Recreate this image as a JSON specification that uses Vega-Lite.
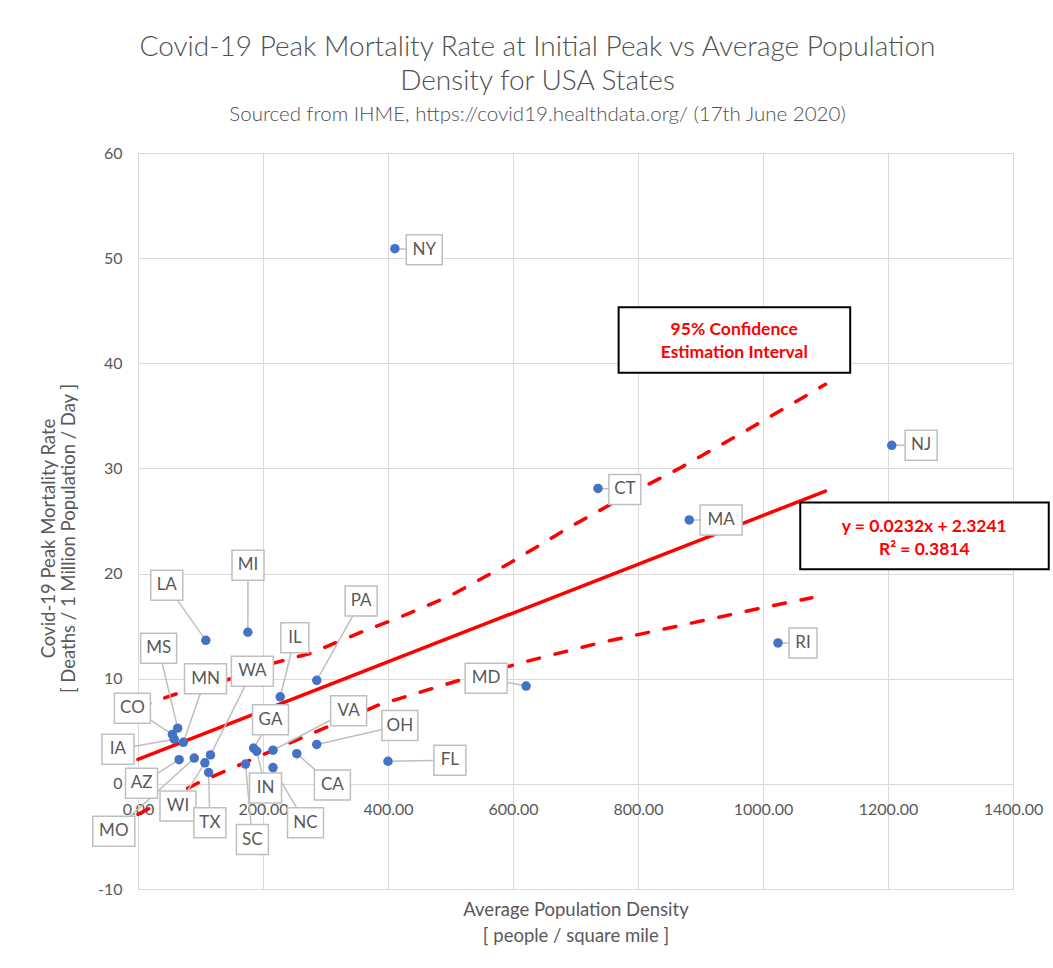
{
  "$schema": "https://vega.github.io/schema/vega-lite/v6.json",
  "autosize": {"type": "none"},
  "padding": {"left": 138, "top": 153, "right": 40, "bottom": 79},
  "width": 875,
  "height": 736,
  "background": "white",
  "config": {
    "view": {"stroke": null},
    "font": "Lato"
  },
  "title": {
    "text": ["Covid-19 Peak Mortality Rate at Initial Peak vs Average Population", "Density for USA States"],
    "subtitle": "Sourced from IHME, https://covid19.healthdata.org/ (17th June 2020)",
    "anchor": "middle",
    "frame": "group",
    "dx": -38,
    "font": "Lato",
    "fontWeight": 300,
    "fontSize": 28,
    "lineHeight": 34,
    "color": "#505050",
    "subtitleFont": "Lato",
    "subtitleFontWeight": 300,
    "subtitleFontSize": 20.5,
    "subtitleColor": "#505050",
    "subtitlePadding": 9,
    "offset": 20
  },
  "datasets": {
    "states": [
      {"state": "NY", "density": 411, "rate": 50.9, "lx": 458, "ly": 50.8},
      {"state": "NJ", "density": 1206, "rate": 32.2, "lx": 1253, "ly": 32.2},
      {"state": "CT", "density": 736, "rate": 28.1, "lx": 779, "ly": 28.0},
      {"state": "MA", "density": 882, "rate": 25.1, "lx": 933, "ly": 25.1},
      {"state": "RI", "density": 1024, "rate": 13.4, "lx": 1064, "ly": 13.4},
      {"state": "MD", "density": 621, "rate": 9.3, "lx": 557, "ly": 10.05},
      {"state": "FL", "density": 400, "rate": 2.15, "lx": 499, "ly": 2.25},
      {"state": "OH", "density": 286, "rate": 3.75, "lx": 419, "ly": 5.55},
      {"state": "CA", "density": 254, "rate": 2.87, "lx": 311, "ly": -0.1},
      {"state": "VA", "density": 216, "rate": 3.2, "lx": 337, "ly": 6.95},
      {"state": "NC", "density": 216, "rate": 1.55, "lx": 268, "ly": -3.7},
      {"state": "IN", "density": 190, "rate": 3.1, "lx": 204, "ly": -0.4},
      {"state": "GA", "density": 185, "rate": 3.4, "lx": 212, "ly": 6.1},
      {"state": "SC", "density": 172, "rate": 1.88, "lx": 183, "ly": -5.3},
      {"state": "PA", "density": 286, "rate": 9.85, "lx": 357, "ly": 17.4},
      {"state": "IL", "density": 227.6, "rate": 8.28, "lx": 251, "ly": 13.9},
      {"state": "MI", "density": 175.8, "rate": 14.42, "lx": 176, "ly": 20.8},
      {"state": "LA", "density": 108.5, "rate": 13.65, "lx": 46, "ly": 18.9},
      {"state": "MS", "density": 63.5, "rate": 5.3, "lx": 33, "ly": 12.9},
      {"state": "CO", "density": 55, "rate": 4.7, "lx": -9, "ly": 7.2},
      {"state": "IA", "density": 58, "rate": 4.25, "lx": -32, "ly": 3.3},
      {"state": "MN", "density": 72.6, "rate": 3.95, "lx": 108, "ly": 10.0},
      {"state": "AZ", "density": 65.8, "rate": 2.3, "lx": 5.6, "ly": 0.05},
      {"state": "MO", "density": 90, "rate": 2.45, "lx": -38.7, "ly": -4.5},
      {"state": "WI", "density": 107, "rate": 2.0, "lx": 64, "ly": -2.1},
      {"state": "WA", "density": 116, "rate": 2.75, "lx": 183, "ly": 10.7},
      {"state": "TX", "density": 113, "rate": 1.08, "lx": 115, "ly": -3.7}
    ],
    "lines": [
      {"series": "fit", "density": 0, "rate": 2.3241},
      {"series": "fit", "density": 1100, "rate": 27.8441},
      {"series": "upper", "density": 0, "rate": 7.4},
      {"series": "upper", "density": 21, "rate": 7.7},
      {"series": "upper", "density": 58, "rate": 8.5},
      {"series": "upper", "density": 143, "rate": 9.9},
      {"series": "upper", "density": 212, "rate": 11.4},
      {"series": "upper", "density": 275, "rate": 12.4},
      {"series": "upper", "density": 360, "rate": 14.5},
      {"series": "upper", "density": 413, "rate": 15.7},
      {"series": "upper", "density": 500, "rate": 17.9},
      {"series": "upper", "density": 595, "rate": 21.0},
      {"series": "upper", "density": 690, "rate": 24.4},
      {"series": "upper", "density": 778, "rate": 27.3},
      {"series": "upper", "density": 866, "rate": 30.0},
      {"series": "upper", "density": 976, "rate": 33.7},
      {"series": "upper", "density": 1100, "rate": 38.0},
      {"series": "lower", "density": 0, "rate": -2.9},
      {"series": "lower", "density": 95, "rate": 0.06},
      {"series": "lower", "density": 143, "rate": 1.3},
      {"series": "lower", "density": 243, "rate": 3.9},
      {"series": "lower", "density": 387, "rate": 7.55},
      {"series": "lower", "density": 519, "rate": 9.94},
      {"series": "lower", "density": 625, "rate": 11.7},
      {"series": "lower", "density": 738, "rate": 13.4},
      {"series": "lower", "density": 871, "rate": 15.1},
      {"series": "lower", "density": 1003, "rate": 16.8},
      {"series": "lower", "density": 1078, "rate": 17.7}
    ],
    "boxes": [
      {"box": "ci", "x1": 769, "x2": 1139.5, "y1": 45.33, "y2": 39.11},
      {"box": "eq", "x1": 1059.6, "x2": 1457.2, "y1": 26.75, "y2": 20.41}
    ],
    "notes": [
      {"text": "95% Confidence", "tx": 954, "ty": 43.17},
      {"text": "Estimation Interval", "tx": 954, "ty": 40.95},
      {"text": "y = 0.0232x + 2.3241", "tx": 1258, "ty": 24.46},
      {"text": "R² = 0.3814", "tx": 1258, "ty": 22.25}
    ]
  },
  "layer": [
    {
      "data": {"name": "lines"},
      "transform": [{"filter": "datum.series === 'fit'"}],
      "mark": {"type": "line", "color": "#FF0000", "strokeWidth": 3.5, "strokeCap": "round"},
      "encoding": {
        "x": {
          "field": "density", "type": "quantitative",
          "scale": {"domain": [0, 1400], "nice": false, "zero": false},
          "axis": {
            "values": [0, 200, 400, 600, 800, 1000, 1200, 1400],
            "format": ".2f",
            "labelFlush": false,
            "grid": true, "gridColor": "#d9d9d9", "gridWidth": 1,
            "domainColor": "#d9d9d9", "domainWidth": 1,
            "ticks": false,
            "labelPadding": -88,
            "labelFont": "Lato", "labelFontSize": 16, "labelColor": "#595959",
            "title": ["Average Population Density", "[ people / square mile ]"],
            "titleFont": "Lato", "titleFontSize": 18.5, "titleFontWeight": "normal",
            "titleColor": "#595959", "titleLineHeight": 26,
            "titleBaseline": "middle", "titleAlign": "center",
            "titleY": 20
          }
        },
        "y": {
          "field": "rate", "type": "quantitative",
          "scale": {"domain": [-10, 60], "nice": false, "zero": false},
          "axis": {
            "values": [-10, 0, 10, 20, 30, 40, 50, 60],
            "labelExpr": "'' + datum.value",
            "grid": true, "gridColor": "#d9d9d9", "gridWidth": 1,
            "domainColor": "#d9d9d9", "domainWidth": 1,
            "ticks": false,
            "labelPadding": 16,
            "labelFont": "Lato", "labelFontSize": 16, "labelColor": "#595959",
            "title": ["Covid-19 Peak Mortality Rate", "[ Deaths / 1 Million Population / Day ]"],
            "titleFont": "Lato", "titleFontSize": 18.5, "titleFontWeight": "normal",
            "titleColor": "#595959", "titleLineHeight": 20,
            "titleAngle": -90, "titleBaseline": "middle", "titleAlign": "center",
            "titleX": -90, "titleY": 385
          }
        }
      }
    },
    {
      "data": {"name": "lines"},
      "transform": [{"filter": "datum.series !== 'fit'"}],
      "mark": {"type": "line", "color": "#FF0000", "strokeWidth": 3.5, "strokeDash": [12, 16], "strokeCap": "round"},
      "encoding": {
        "x": {"field": "density", "type": "quantitative"},
        "y": {"field": "rate", "type": "quantitative"},
        "detail": {"field": "series"}
      }
    },
    {
      "data": {"name": "states"},
      "mark": {"type": "rule", "color": "#bfbfbf", "strokeWidth": 1.5},
      "encoding": {
        "x": {"field": "density", "type": "quantitative"},
        "y": {"field": "rate", "type": "quantitative"},
        "x2": {"field": "lx"},
        "y2": {"field": "ly"}
      }
    },
    {
      "data": {"name": "states"},
      "mark": {"type": "point", "filled": true, "color": "#4472C4", "size": 90, "opacity": 1},
      "encoding": {
        "x": {"field": "density", "type": "quantitative"},
        "y": {"field": "rate", "type": "quantitative"}
      }
    },
    {
      "data": {"name": "states"},
      "mark": {"type": "point", "filled": true, "fill": "white", "stroke": "#bfbfbf", "strokeWidth": 1.5, "size": 1600, "opacity": 1, "fillOpacity": 1, "strokeOpacity": 1},
      "encoding": {
        "x": {"field": "lx", "type": "quantitative"},
        "y": {"field": "ly", "type": "quantitative"},
        "shape": {
          "condition": [
            {"test": "indexof(['MO','MN','WA','MD','MA'], datum.state) >= 0", "value": "M-1.05,-0.75H1.05V0.75H-1.05Z"},
            {"test": "indexof(['IL','RI'], datum.state) >= 0", "value": "M-0.7,-0.75H0.7V0.75H-0.7Z"},
            {"test": "indexof(['IA','NJ','IN','SC','LA','TX','AZ','MI','PA','CT','FL'], datum.state) >= 0", "value": "M-0.8,-0.75H0.8V0.75H-0.8Z"}
          ],
          "value": "M-0.9,-0.75H0.9V0.75H-0.9Z"
        }
      }
    },
    {
      "data": {"name": "states"},
      "mark": {"type": "text", "font": "Lato", "fontSize": 17, "color": "#595959", "align": "center", "baseline": "middle"},
      "encoding": {
        "x": {"field": "lx", "type": "quantitative"},
        "y": {"field": "ly", "type": "quantitative"},
        "text": {"field": "state"}
      }
    },
    {
      "data": {"name": "boxes"},
      "mark": {"type": "rect", "fill": "white", "stroke": "black", "strokeWidth": 2},
      "encoding": {
        "x": {"field": "x1", "type": "quantitative"},
        "x2": {"field": "x2"},
        "y": {"field": "y1", "type": "quantitative"},
        "y2": {"field": "y2"}
      }
    },
    {
      "data": {"name": "notes"},
      "mark": {"type": "text", "font": "Lato", "fontSize": 17.5, "fontWeight": "bold", "color": "#FF0000", "align": "center", "baseline": "middle"},
      "encoding": {
        "x": {"field": "tx", "type": "quantitative"},
        "y": {"field": "ty", "type": "quantitative"},
        "text": {"field": "text"}
      }
    }
  ]
}
